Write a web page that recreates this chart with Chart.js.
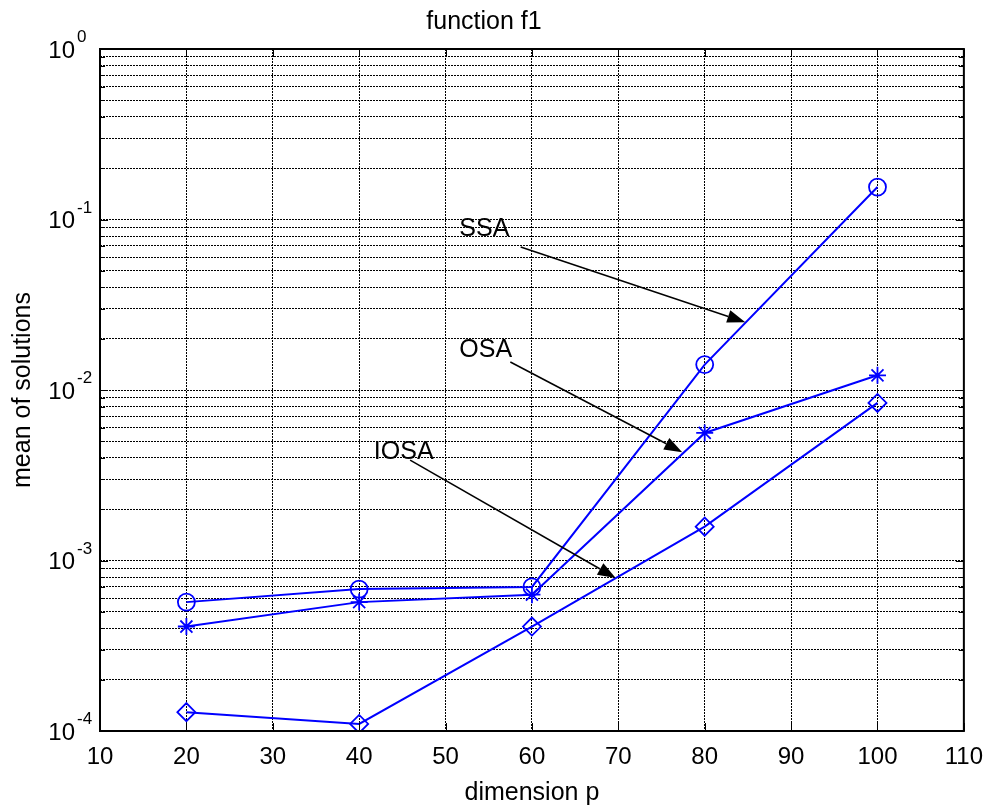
<!DOCTYPE html>
<html>
<head>
<meta charset="utf-8">
<title>function f1</title>
<script src="https://cdn.jsdelivr.net/npm/chart.js@4.4.0/dist/chart.umd.min.js"></script>
<style>
    html, body { margin: 0; padding: 0; background: #fff; }
</style>
</head>
<body>
<canvas id="f1Chart" width="995" height="807"></canvas>
<script>
// Values
const dimensions = [20, 40, 60, 80, 100];
const ssaMeans = [5.7e-4, 6.8e-4, 7.0e-4, 1.41e-2, 0.155];
const osaMeans = [4.1e-4, 5.7e-4, 6.3e-4, 5.6e-3, 1.22e-2];
const iosaMeans = [1.29e-4, 1.10e-4, 4.1e-4, 1.58e-3, 8.4e-3];

const xTickValues = [10, 20, 30, 40, 50, 60, 70, 80, 90, 100, 110];
const yExponents = [-4, -3, -2, -1, 0];
const ySignificands = [1, 2, 3, 4, 5, 6, 7, 8, 9];

// Text arrows (data coordinates)
const arrowLabels = ['SSA', 'OSA', 'IOSA'];
const arrowTextAt = [[51.6, 0.088], [51.6, 0.0172], [41.7, 0.00432]];
const arrowFrom = [[58.7, 0.069], [57.5, 0.0146], [45.9, 0.00388]];
const arrowTo = [[84.7, 0.025], [77.4, 0.00432], [69.7, 7.9e-4]];

const FONT = '"Liberation Sans", Arial, sans-serif';
const BLUE = '#0000ff';

function buildLogTicks() {
    const ticks = [];
    yExponents.forEach((e, i) => {
        const last = i === yExponents.length - 1;
        (last ? [1] : ySignificands).forEach(s => {
            ticks.push({ value: s * Math.pow(10, e), major: s === 1 });
        });
    });
    return ticks;
}

// Draws box, inner tick marks, y tick labels with exponents and the arrow notes
const matlabAxes = {
    id: 'matlabAxes',
    afterDraw(chart) {
        const { ctx, chartArea: a, scales: { x, y } } = chart;
        ctx.save();

        // inner tick marks
        ctx.strokeStyle = '#000';
        ctx.lineWidth = 1;
        ctx.beginPath();
        xTickValues.forEach(v => {
            const px = Math.round(x.getPixelForValue(v)) + 0.5;
            ctx.moveTo(px, a.bottom); ctx.lineTo(px, a.bottom - 8);
            ctx.moveTo(px, a.top); ctx.lineTo(px, a.top + 8);
        });
        y.ticks.forEach(t => {
            const py = Math.round(y.getPixelForValue(t.value)) + 0.5;
            const len = t.major ? 8 : 5;
            ctx.moveTo(a.left, py); ctx.lineTo(a.left + len, py);
            ctx.moveTo(a.right, py); ctx.lineTo(a.right - len, py);
        });
        ctx.stroke();

        // box
        ctx.lineWidth = 2;
        ctx.strokeRect(a.left, a.top, a.right - a.left, a.bottom - a.top);

        // y tick labels 10^e
        ctx.fillStyle = '#000';
        yExponents.forEach(e => {
            const py = y.getPixelForValue(Math.pow(10, e));
            ctx.font = '24px ' + FONT;
            ctx.textAlign = 'right';
            ctx.textBaseline = 'middle';
            ctx.fillText('10', a.left - 25, py + 2);
            ctx.font = '17px ' + FONT;
            ctx.textAlign = 'left';
            ctx.textBaseline = 'alphabetic';
            ctx.fillText(String(e), a.left - 23, py - 7);
        });

        // arrows with labels
        ctx.font = '25px ' + FONT;
        ctx.textAlign = 'left';
        ctx.textBaseline = 'middle';
        ctx.lineWidth = 1.5;
        arrowLabels.forEach((label, i) => {
            ctx.fillText(label, x.getPixelForValue(arrowTextAt[i][0]), y.getPixelForValue(arrowTextAt[i][1]));
            const x0 = x.getPixelForValue(arrowFrom[i][0]);
            const y0 = y.getPixelForValue(arrowFrom[i][1]);
            const x1 = x.getPixelForValue(arrowTo[i][0]);
            const y1 = y.getPixelForValue(arrowTo[i][1]);
            const ang = Math.atan2(y1 - y0, x1 - x0);
            const headLen = 18, headHalf = 6.5;
            const bx = x1 - headLen * Math.cos(ang);
            const by = y1 - headLen * Math.sin(ang);
            ctx.beginPath();
            ctx.moveTo(x0, y0);
            ctx.lineTo(bx, by);
            ctx.stroke();
            ctx.beginPath();
            ctx.moveTo(x1, y1);
            ctx.lineTo(bx + headHalf * Math.sin(ang), by - headHalf * Math.cos(ang));
            ctx.lineTo(bx - headHalf * Math.sin(ang), by + headHalf * Math.cos(ang));
            ctx.closePath();
            ctx.fill();
        });

        ctx.restore();
    }
};

function series(label, values, style, radius) {
    return {
        label: label,
        data: dimensions.map((d, i) => ({ x: d, y: values[i] })),
        borderColor: BLUE,
        borderWidth: 2,
        pointStyle: style,
        pointRadius: radius,
        pointBorderColor: BLUE,
        pointBackgroundColor: 'rgba(0,0,0,0)',
        pointBorderWidth: 1.8,
        tension: 0,
        fill: false
    };
}

const gridDash = { display: false, dash: [2, 1] };

new Chart(document.getElementById('f1Chart'), {
    type: 'line',
    data: {
        datasets: [
            series('SSA', ssaMeans, 'circle', 8.5),
            series('OSA', osaMeans, 'star', 8.5),
            series('IOSA', iosaMeans, 'rectRot', 9)
        ]
    },
    options: {
        responsive: false,
        animation: false,
        layout: { padding: { left: 0, right: 27, top: 0, bottom: 0 } },
        plugins: {
            legend: { display: false },
            tooltip: { enabled: false },
            title: {
                display: true,
                text: 'function f1',
                color: '#000',
                font: { family: FONT, size: 25, weight: 'normal' },
                padding: { top: 7, bottom: 12 }
            }
        },
        scales: {
            x: {
                type: 'linear',
                min: 10,
                max: 110,
                afterBuildTicks: s => { s.ticks = xTickValues.map(v => ({ value: v })); },
                afterFit: s => { s.height = 76; },
                grid: { color: '#000', lineWidth: 1, drawTicks: false },
                border: gridDash,
                ticks: {
                    color: '#000',
                    padding: 12,
                    maxRotation: 0,
                    font: { family: FONT, size: 24 }
                },
                title: {
                    display: true,
                    text: 'dimension p',
                    color: '#000',
                    font: { family: FONT, size: 25 },
                    padding: { top: 4, bottom: -1 }
                }
            },
            y: {
                type: 'logarithmic',
                min: 1e-4,
                max: 1,
                afterBuildTicks: s => { s.ticks = buildLogTicks(); },
                afterFit: s => { s.width = 100; },
                grid: { color: '#000', lineWidth: 1, drawTicks: false },
                border: gridDash,
                ticks: { display: false },
                title: {
                    display: true,
                    text: 'mean of solutions',
                    color: '#000',
                    font: { family: FONT, size: 25 },
                    padding: { top: 8, bottom: 4 }
                }
            }
        }
    },
    plugins: [matlabAxes]
});
</script>
</body>
</html>
